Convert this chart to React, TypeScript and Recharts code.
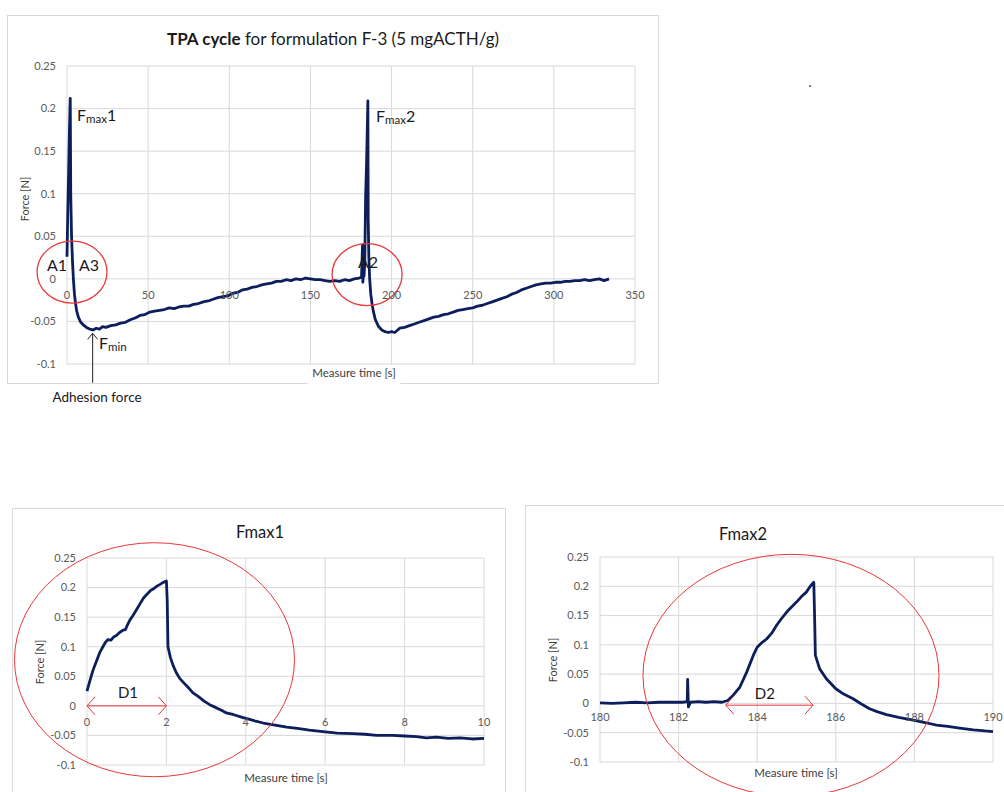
import React from 'react';
import { LineChart, Line, XAxis, YAxis, CartesianGrid, ReferenceDot, ReferenceLine } from 'recharts';

const FONT = 'Lato, "Noto Sans", sans-serif';
const NAVY = '#0c1f5c';
const RED = '#e8383a';
const GRID = '#d9d9d9';
const TICK = '#595959';

const forceTicks = [-0.1, -0.05, 0, 0.05, 0.1, 0.15, 0.2, 0.25];
const cycleTimeTicks = [0, 50, 100, 150, 200, 250, 300, 350];
const fmax1TimeTicks = [0, 2, 4, 6, 8, 10];
const fmax2TimeTicks = [180, 182, 184, 186, 188, 190];

// full TPA cycle (s, N)
const cycleTime = [
  0, 0.5, 1, 1.5, 2, 2.3, 2.8, 3.4, 4, 4.6, 5.2, 6, 7, 8.5, 10, 12, 14, 16, 18, 20, 22, 24, 27, 30, 33,
  36, 39, 42, 45, 48, 51, 54, 57, 60, 63, 66, 69, 72, 75, 78, 81, 84, 87, 90, 93, 96, 99, 102, 105, 108,
  111, 114, 117, 120, 123, 126, 129, 132, 135, 138, 141, 144, 147, 150, 153, 156, 159, 162, 165, 168,
  171, 174, 177, 180, 181.5, 182.1, 182.3, 182.5, 183, 183.5, 184, 184.5, 185, 185.4, 185.6, 186, 186.5,
  187.2, 188, 189, 190, 192, 194, 196, 198, 200, 202, 205, 208, 211, 214, 217, 220, 223, 226, 229, 232,
  235, 238, 241, 244, 247, 250, 253, 256, 259, 262, 265, 268, 271, 274, 277, 280, 283, 286, 289, 292,
  295, 298, 301, 304, 307, 310, 313, 316, 319, 322, 325, 328, 331, 334,
];
const cycleForce = [
  0.026, 0.08, 0.125, 0.175, 0.212, 0.1, 0.05, 0.02, -0.002, -0.018, -0.028, -0.038, -0.045, -0.051,
  -0.054, -0.057, -0.059, -0.06, -0.058, -0.059, -0.056, -0.057, -0.055, -0.054, -0.052, -0.051, -0.048,
  -0.046, -0.043, -0.042, -0.039, -0.038, -0.037, -0.036, -0.034, -0.035, -0.033, -0.032, -0.032, -0.03,
  -0.029, -0.027, -0.026, -0.024, -0.022, -0.021, -0.02, -0.017, -0.016, -0.013, -0.012, -0.01, -0.009,
  -0.007, -0.006, -0.005, -0.003, -0.003, -0.001, -0.002, 0, -0.001, 0.001, 0, -0.001, -0.001, -0.002,
  -0.003, -0.002, -0.003, -0.001, -0.002, 0, 0.001, 0.002, 0.04, -0.004, 0.002, 0.003, 0.02, 0.096,
  0.13, 0.172, 0.209, 0.07, 0.025, 0, -0.018, -0.03, -0.04, -0.048, -0.056, -0.06, -0.062, -0.063,
  -0.062, -0.063, -0.058, -0.057, -0.055, -0.053, -0.051, -0.049, -0.047, -0.045, -0.044, -0.042, -0.041,
  -0.039, -0.037, -0.036, -0.035, -0.034, -0.032, -0.031, -0.029, -0.027, -0.025, -0.023, -0.021, -0.018,
  -0.016, -0.013, -0.011, -0.009, -0.007, -0.006, -0.005, -0.005, -0.004, -0.004, -0.003, -0.003, -0.002,
  -0.002, -0.001, -0.002, -0.001, 0, -0.002, 0,
];

// zoom on first compression
const fmax1Time = [
  0, 0.07, 0.15, 0.24, 0.32, 0.4, 0.47, 0.53, 0.6, 0.68, 0.74, 0.82, 0.91, 0.97, 1.02, 1.08, 1.15, 1.25,
  1.33, 1.42, 1.5, 1.6, 1.68, 1.75, 1.83, 1.9, 1.96, 2.0, 2.02, 2.04, 2.1, 2.17, 2.25, 2.34, 2.45, 2.55,
  2.67, 2.8, 2.95, 3.09, 3.25, 3.4, 3.51, 3.7, 3.93, 4.1, 4.25, 4.44, 4.7, 5.03, 5.3, 5.6, 6.0, 6.3, 6.7,
  7.0, 7.3, 7.7, 8.0, 8.3, 8.55, 8.8, 9.1, 9.4, 9.7, 10,
];
const fmax1Force = [
  0.025, 0.042, 0.06, 0.076, 0.09, 0.1, 0.108, 0.112, 0.111, 0.117, 0.119, 0.124, 0.128, 0.129, 0.137,
  0.145, 0.152, 0.163, 0.172, 0.182, 0.188, 0.195, 0.198, 0.202, 0.205, 0.208, 0.21, 0.211, 0.18, 0.1,
  0.082, 0.068, 0.056, 0.046, 0.038, 0.031, 0.022, 0.016, 0.008, 0.002, -0.003, -0.008, -0.012, -0.015,
  -0.02, -0.023, -0.026, -0.029, -0.032, -0.036, -0.038, -0.041, -0.044, -0.046, -0.047, -0.048, -0.05,
  -0.05, -0.051, -0.052, -0.054, -0.053, -0.055, -0.054, -0.056, -0.055,
];

// zoom on second compression
const fmax2Time = [
  180, 180.3, 180.6, 180.9, 181.2, 181.5, 181.8, 182.1, 182.22, 182.23, 182.25, 182.3, 182.5, 182.7,
  182.9, 183.1, 183.25, 183.39, 183.56, 183.73, 183.9, 184.0, 184.12, 184.24, 184.37, 184.49, 184.62,
  184.75, 184.88, 185.0, 185.12, 185.25, 185.35, 185.44, 185.46, 185.48, 185.59, 185.76, 186.0, 186.2,
  186.44, 186.65, 186.86, 187.05, 187.29, 187.6, 188.0, 188.3, 188.56, 188.85, 189.15, 189.5, 189.8, 190,
];
const fmax2Force = [
  0.001, 0, 0.001, 0.002, 0.001, 0.002, 0.002, 0.002, 0.003, 0.041, -0.006, 0.002, 0.003, 0.002, 0.003,
  0.002, 0.005, 0.014, 0.028, 0.053, 0.082, 0.096, 0.104, 0.11, 0.12, 0.133, 0.145, 0.156, 0.165, 0.173,
  0.182, 0.19, 0.2, 0.207, 0.15, 0.082, 0.059, 0.042, 0.025, 0.016, 0.008, -0.001, -0.009, -0.014, -0.019,
  -0.024, -0.029, -0.033, -0.037, -0.039, -0.042, -0.045, -0.047, -0.048,
];

const cycleRows = cycleTime.map((t, i) => ({ t, f: cycleForce[i] }));
const fmax1Rows = fmax1Time.map((t, i) => ({ t, f: fmax1Force[i] }));
const fmax2Rows = fmax2Time.map((t, i) => ({ t, f: fmax2Force[i] }));

const Ellipse = (rx: number, ry: number, width: number) => (p: any) => (
  <ellipse cx={p.cx} cy={p.cy} rx={rx} ry={ry} fill="none" stroke={RED} strokeWidth={width} />
);

const Label = (text: string, size: number, sub?: string, tail?: string) => (p: any) => (
  <text x={p.cx} y={p.cy} fontSize={size} fontFamily={FONT} fill="#1a1a1a">
    {text}
    {sub && (
      <tspan fontSize={size * 0.72} dy={2}>
        {sub}
      </tspan>
    )}
    {tail && <tspan dy={-2}>{tail}</tspan>}
  </text>
);

// red double-headed arrow used for D1 / D2
const DoubleArrow = (p: any) => (
  <g stroke={RED} strokeWidth={1} fill="none">
    <line x1={p.x1} y1={p.y1} x2={p.x2} y2={p.y2} />
    <polyline points={`${p.x1 + 8},${p.y1 - 9} ${p.x1},${p.y1} ${p.x1 + 8},${p.y1 + 9}`} />
    <polyline points={`${p.x2 - 8},${p.y2 - 9} ${p.x2},${p.y2} ${p.x2 - 8},${p.y2 + 9}`} />
  </g>
);

// black arrow pointing up at F min
const UpArrow = (p: any) => {
  const top = Math.min(p.y1, p.y2);
  const bottom = Math.max(p.y1, p.y2);
  return (
    <g stroke="#222" strokeWidth={1} fill="none">
      <line x1={p.x1} y1={top} x2={p.x1} y2={bottom} />
      <polyline points={`${p.x1 - 5},${top + 6} ${p.x1},${top} ${p.x1 + 5},${top + 6}`} />
    </g>
  );
};

const zeroTick = (zeroY: number, dy: number) => (p: any) => (
  <text x={p.x} y={zeroY + dy} textAnchor="middle" fill={TICK} fontSize={11} fontFamily={FONT}>
    {p.payload.value}
  </text>
);

type PanelProps = {
  left: number;
  top: number;
  width: number;
  height: number;
  marginTop: number;
  marginRight: number;
  yAxisWidth: number;
  xAxisHeight: number;
  tickDy: number;
  rows: { t: number; f: number }[];
  xDomain: [number, number];
  xTicks: number[];
  strokeWidth: number;
  children?: React.ReactNode;
};

const Panel = (props: PanelProps) => {
  const plotH = props.height - props.marginTop - props.xAxisHeight;
  const zeroY = props.marginTop + (plotH * 0.25) / 0.35;
  return (
    <div style={{ position: 'absolute', left: props.left, top: props.top, width: props.width, height: props.height }}>
      <LineChart
        width={props.width}
        height={props.height}
        data={props.rows}
        margin={{ top: props.marginTop, right: props.marginRight, left: 0, bottom: 0 }}
      >
        <CartesianGrid stroke={GRID} strokeWidth={1} />
        <XAxis
          dataKey="t"
          type="number"
          domain={props.xDomain}
          ticks={props.xTicks}
          height={props.xAxisHeight}
          axisLine={false}
          tickLine={false}
          interval={0}
          tick={zeroTick(zeroY, props.tickDy)}
        />
        <YAxis
          type="number"
          domain={[-0.1, 0.25]}
          ticks={forceTicks}
          width={props.yAxisWidth}
          axisLine={false}
          tickLine={false}
          tickSize={9}
          tickMargin={2}
          interval={0}
          tick={{ fill: TICK, fontSize: 11, fontFamily: FONT }}
        />
        <Line
          dataKey="f"
          type="linear"
          stroke={NAVY}
          strokeWidth={props.strokeWidth}
          strokeLinejoin="round"
          dot={false}
          isAnimationActive={false}
        />
        {props.children}
      </LineChart>
    </div>
  );
};

const Frame = ({ left, top, width, height }: { left: number; top: number; width: number; height: number }) => (
  <div
    style={{
      position: 'absolute',
      left,
      top,
      width,
      height,
      boxSizing: 'border-box',
      border: `1px solid ${GRID}`,
    }}
  />
);

const Text = ({
  x,
  y,
  size,
  children,
  rotate,
  color = '#404040',
  bg,
}: {
  x: number;
  y: number;
  size: number;
  children: React.ReactNode;
  rotate?: boolean;
  color?: string;
  bg?: string;
}) => (
  <div
    style={{
      position: 'absolute',
      left: x,
      top: y,
      transform: `translate(-50%, -50%)${rotate ? ' rotate(-90deg)' : ''}`,
      whiteSpace: 'nowrap',
      fontFamily: FONT,
      fontSize: size,
      color,
      lineHeight: 1,
      background: bg,
      padding: bg ? '2px 4px 6px' : undefined,
    }}
  >
    {children}
  </div>
);

export default function App() {
  return (
    <div
      style={{
        position: 'absolute',
        left: 0,
        top: 0,
        width: 1004,
        height: 792,
        overflow: 'hidden',
        background: '#fff',
        fontFamily: FONT,
      }}
    >
      {/* full cycle */}
      <Frame left={7} top={15} width={652} height={369} />
      <Panel
        left={7}
        top={15}
        width={652}
        height={369}
        marginTop={51}
        marginRight={24}
        yAxisWidth={60}
        xAxisHeight={20}
        tickDy={20}
        rows={cycleRows}
        xDomain={[0, 350]}
        xTicks={cycleTimeTicks}
        strokeWidth={2.8}
      >
        <ReferenceDot x={3.1} y={0.008} r={0} ifOverflow="visible" shape={Ellipse(35, 31, 1.3)} />
        <ReferenceDot x={184.9} y={0.005} r={0} ifOverflow="visible" shape={Ellipse(35, 31, 1.3)} />
        <ReferenceLine
          segment={[
            { x: 15.8, y: -0.064 },
            { x: 15.8, y: -0.122 },
          ]}
          ifOverflow="visible"
          shape={UpArrow}
        />
        <ReferenceDot x={6.2} y={0.185} r={0} ifOverflow="visible" shape={Label('F', 16, 'max', '1')} />
        <ReferenceDot x={190.4} y={0.184} r={0} ifOverflow="visible" shape={Label('F', 16, 'max', '2')} />
        <ReferenceDot x={-12.3} y={0.0095} r={0} ifOverflow="visible" shape={Label('A1', 16)} />
        <ReferenceDot x={7.4} y={0.0094} r={0} ifOverflow="visible" shape={Label('A3', 16)} />
        <ReferenceDot x={179.3} y={0.0133} r={0} ifOverflow="visible" shape={Label('A2', 16)} />
        <ReferenceDot x={19.7} y={-0.082} r={0} ifOverflow="visible" shape={Label('F', 16, 'min')} />
      </Panel>
      <Text x={24} y={199} size={11} rotate>
        Force [N]
      </Text>
      <Text x={354} y={375} size={11.5} bg="#fff">
        Measure time [s]
      </Text>
      <div
        style={{
          position: 'absolute',
          left: 7,
          top: 30,
          width: 652,
          textAlign: 'center',
          fontFamily: FONT,
          fontSize: 17,
          color: '#1a1a1a',
          lineHeight: 1,
        }}
      >
        <b>TPA cycle</b> for formulation F-3 (5 mgACTH/g)
      </div>
      <Text x={97} y={398} size={13.5} color="#1a1a1a">
        Adhesion force
      </Text>
      <div style={{ position: 'absolute', left: 809, top: 85, width: 2, height: 2, background: '#777' }} />

      {/* Fmax1 zoom */}
      <Frame left={12} top={508} width={494} height={290} />
      <Panel
        left={12}
        top={508}
        width={494}
        height={290}
        marginTop={50}
        marginRight={22}
        yAxisWidth={75}
        xAxisHeight={33}
        tickDy={20}
        rows={fmax1Rows}
        xDomain={[0, 10]}
        xTicks={fmax1TimeTicks}
        strokeWidth={2.8}
      >
        <ReferenceDot x={1.7} y={0.078} r={0} ifOverflow="visible" shape={Ellipse(140, 117, 1)} />
        <ReferenceLine
          segment={[
            { x: 0, y: 0 },
            { x: 2, y: 0 },
          ]}
          ifOverflow="visible"
          shape={DoubleArrow}
        />
        <ReferenceDot x={0.78} y={0.0134} r={0} ifOverflow="visible" shape={Label('D1', 15)} />
      </Panel>
      <Text x={260} y={532} size={16.5} color="#1a1a1a">
        Fmax1
      </Text>
      <Text x={39} y={662} size={11} rotate>
        Force [N]
      </Text>
      <Text x={286} y={778} size={11.5}>
        Measure time [s]
      </Text>

      {/* Fmax2 zoom */}
      <Frame left={525} top={505} width={490} height={295} />
      <Panel
        left={525}
        top={505}
        width={490}
        height={295}
        marginTop={52}
        marginRight={22}
        yAxisWidth={75}
        xAxisHeight={38}
        tickDy={18}
        rows={fmax2Rows}
        xDomain={[180, 190]}
        xTicks={fmax2TimeTicks}
        strokeWidth={2.8}
      >
        <ReferenceDot x={184.86} y={0.048} r={0} ifOverflow="visible" shape={Ellipse(148, 121, 1)} />
        <ReferenceLine
          segment={[
            { x: 183.2, y: -0.003 },
            { x: 185.42, y: -0.003 },
          ]}
          ifOverflow="visible"
          shape={DoubleArrow}
        />
        <ReferenceDot x={183.94} y={0.007} r={0} ifOverflow="visible" shape={Label('D2', 15)} />
      </Panel>
      <Text x={743} y={534} size={16.5} color="#1a1a1a">
        Fmax2
      </Text>
      <Text x={552} y={660} size={11} rotate>
        Force [N]
      </Text>
      <Text x={796} y={773} size={11.5}>
        Measure time [s]
      </Text>
    </div>
  );
}
